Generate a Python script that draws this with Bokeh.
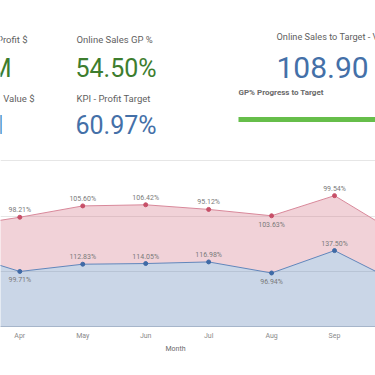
from bokeh.plotting import figure
from bokeh.layouts import column
from bokeh.models import Range1d, FixedTicker, ColumnDataSource, Title
from bokeh.core.properties import value
from bokeh.embed import file_html
from bokeh.resources import INLINE
import numpy as np

# ---------------- data ----------------
months = ["Mar", "Apr", "May", "Jun", "Jul", "Aug", "Sep", "Oct"]
online_pct = [135.0, 99.71, 112.83, 114.05, 116.98, 96.94, 137.50, 80.0]
store_pct = [45.0, 98.21, 105.60, 106.42, 95.12, 103.63, 99.54, 88.0]

kpi_titles = ["Profit $", "Online Sales GP %", "Value $", "KPI - Profit Target",
              "Online Sales to Target - Variance"]
kpi_values = ["M", "54.50%", "M", "60.97%", "108.90"]
gp_progress_pct = 54.50 / 60.97 * 100

FONT = value("Roboto")
GRAY = "#5f5f5f"
GREEN = "#3d7d2e"
BLUE = "#4470a8"

# ---------------- KPI header ----------------
top = figure(width=375, height=150, x_range=Range1d(0, 375), y_range=Range1d(150, 0),
             output_backend="svg", toolbar_location=None, min_border=0)
top.axis.visible = False
top.grid.visible = False
top.outline_line_color = None

top.text(x=[27, 76, 34, 76], y=[39, 39, 98, 98], text=kpi_titles[:4],
         text_font=FONT, text_font_size="9.5px", text_color=GRAY,
         text_align=["right", "left", "right", "left"], text_baseline="alphabetic")
top.text(x=[276], y=[36], text=[kpi_titles[4]], text_font=FONT, text_font_size="9.2px",
         text_color=GRAY, text_align="left", text_baseline="alphabetic")

top.text(x=[11, 75], y=[68, 68], text=kpi_values[:2], text_font=FONT,
         text_font_size="25px", text_color=GREEN,
         text_align=["right", "left"], text_baseline="alphabetic")
top.text(x=[3, 75], y=[125, 125], text=kpi_values[2:4], text_font=FONT,
         text_font_size="25px", text_color=BLUE,
         text_align=["right", "left"], text_baseline="alphabetic")
top.text(x=[276], y=[67], text=[kpi_values[4]], text_font=FONT,
         text_font_size="30px", text_color=BLUE, text_align="left",
         text_baseline="alphabetic")

top.text(x=[238], y=[92], text=["GP% Progress to Target"], text_font=FONT,
         text_font_size="8px", text_font_style="bold", text_color="#6a6a6a",
         text_align="left", text_baseline="alphabetic")
gauge_left, gauge_w = 238, 170
top.quad(left=[gauge_left], right=[gauge_left + gauge_w * gp_progress_pct / 100],
         top=[116.5], bottom=[121.5], fill_color="#66be4a", line_color=None)

# ---------------- stacked area chart ----------------
x = np.arange(len(months))
online = np.array(online_pct)
store = np.array(store_pct)
stack_top = online + store


def offsets(vals):
    out = []
    for i, v in enumerate(vals):
        lo = (i > 0 and v < vals[i - 1]) and (i < len(vals) - 1 and v < vals[i + 1])
        out.append(9 if lo else -7)
    return out


p = figure(width=375, height=225, x_range=Range1d(0.6934, 6.651), y_range=Range1d(0, 315.2),
           output_backend="svg", toolbar_location=None,
           min_border_left=0, min_border_right=0, min_border_top=2, min_border_bottom=49)
p.outline_line_color = None
p.yaxis.visible = False
p.xgrid.visible = False
p.ygrid.ticker = FixedTicker(ticks=[100, 200, 300])
p.ygrid.grid_line_color = "#e6e6e6"

p.varea(x=x, y1=0, y2=online, fill_color="#4f77b0", fill_alpha=0.3)
p.varea(x=x, y1=online, y2=stack_top, fill_color="#cf6b7e", fill_alpha=0.3)
p.line(x, online, line_color="#6186bb", line_width=1)
p.line(x, stack_top, line_color="#d8889a", line_width=1)
p.scatter(x, online, size=4, color="#3f6aa6")
p.scatter(x, stack_top, size=4, color="#c74f68")

lab = ColumnDataSource(dict(
    x=np.concatenate([x, x]),
    y=np.concatenate([online, stack_top]),
    t=[f"{v:.2f}%" for v in online_pct] + [f"{v:.2f}%" for v in store_pct],
    off=offsets(list(online)) + offsets(list(stack_top)),
))
p.text(x="x", y="y", text="t", y_offset="off", source=lab, text_font=FONT,
       text_font_size="7px", text_color="#7a7a7a", text_align="center",
       text_baseline="middle")

p.xaxis.ticker = FixedTicker(ticks=list(x))
p.xaxis.major_label_overrides = {int(i): m for i, m in zip(x, months)}
p.xaxis.major_tick_line_color = None
p.xaxis.major_tick_out = 0
p.xaxis.major_tick_in = 0
p.xaxis.minor_tick_line_color = None
p.xaxis.minor_tick_out = 0
p.xaxis.axis_line_color = "#a6b5ca"
p.xaxis.major_label_text_font = "Roboto"
p.xaxis.major_label_text_font_size = "7px"
p.xaxis.major_label_text_color = "#8a8a8a"
p.xaxis.major_label_standoff = 5

month_title = Title(text="Month", align="left", offset=165, standoff=0,
                    text_font="Roboto", text_font_size="7px", text_font_style="normal",
                    text_color="#6b6b6b")
p.add_layout(month_title, "below")

layout = column(top, p, spacing=0)
open("out.html", "w").write(file_html(layout, INLINE))
